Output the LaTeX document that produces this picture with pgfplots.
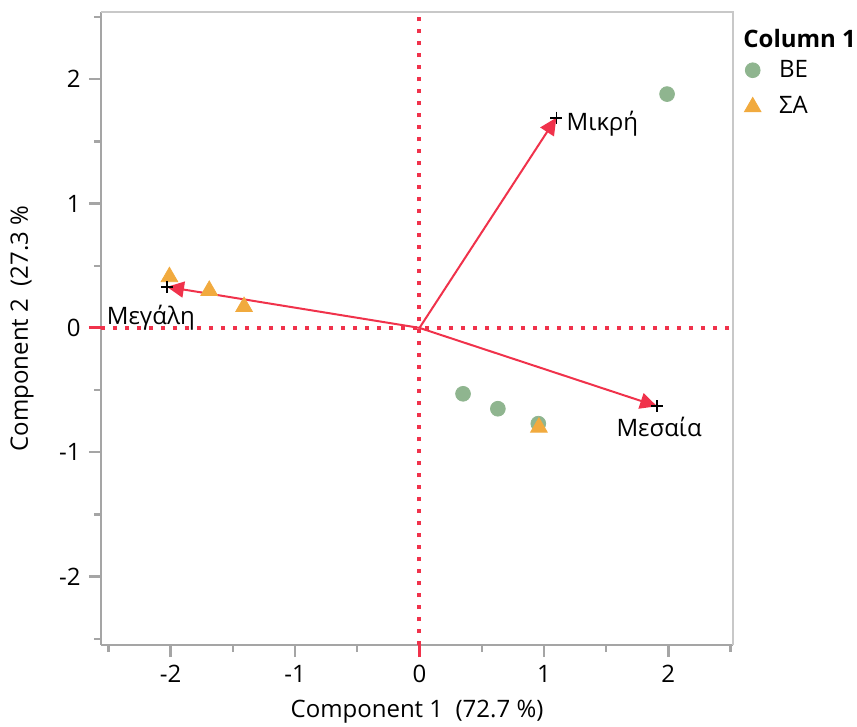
\documentclass[border=0pt]{standalone}
\usepackage{fontspec}
\setmainfont{Open Sans}
\usepackage{pgfplots}
\pgfplotsset{compat=1.18}
\usetikzlibrary{arrows.meta}
\definecolor{beg}{RGB}{143,181,143}
\definecolor{sao}{RGB}{241,170,62}
\definecolor{arr}{RGB}{240,50,75}
\definecolor{axg}{RGB}{165,165,165}
\definecolor{axl}{RGB}{200,200,200}
\begin{document}
\fontsize{12}{14}\selectfont
\begin{tikzpicture}
\begin{axis}[name=ax,
  scale only axis, width=316pt, height=316.5pt,
  xmin=-2.56, xmax=2.52, ymin=-2.55, ymax=2.54,
  axis lines*=left, axis line style={axg, line width=1.4pt},
  xtick={-2,-1,0,1,2}, ytick={-2,-1,0,1,2},
  minor xtick={-2.5,-1.5,-0.5,0.5,1.5,2.5},
  minor ytick={-2.5,-1.5,-0.5,0.5,1.5,2.5},
  tick align=outside, tick pos=left,
  major tick style={axg, line width=1.2pt}, minor tick style={axg, line width=1.2pt},
  major tick length=6pt, minor tick length=3.5pt,
  extra x ticks={0}, extra x tick labels={}, extra x tick style={major tick style={arr, line width=1.4pt}},
  extra y ticks={0}, extra y tick labels={}, extra y tick style={major tick style={arr, line width=1.4pt}},
  /pgf/number format/assume math mode=true,
  ticklabel style={font=\fontsize{12}{14}\selectfont},
  xlabel={Component 1\ \ (72.7 \%)},
  ylabel={Component 2\ \ (27.3 \%},
  label style={font=\fontsize{12}{14}\selectfont},
  xlabel style={at={(axis description cs:0.5,0)}, anchor=center, yshift=-33.5pt},
  ylabel style={at={(axis description cs:0,0.5)}, anchor=center, yshift=39.5pt},
  clip=false,
  legend style={at={(rel axis cs:1.0,0.925)}, anchor=north west, xshift=5.5pt, draw=none, fill=none,
    inner sep=0pt, nodes={inner sep=0pt}, column sep=9pt, row sep=8pt,
    font=\fontsize{12}{14}\selectfont},
  legend cell align=left,
]
\addplot[only marks, mark=*, mark size=3.7pt, color=beg] coordinates {
  (1.99,1.88) (0.35,-0.53) (0.63,-0.65) (0.955,-0.77)};
\addlegendentry{BE}
\addplot[only marks, mark=triangle*, mark size=4.8pt, color=sao] coordinates {
  (-2.01,0.41) (-1.69,0.30) (-1.41,0.17) (0.96,-0.80)};
\addlegendentry{ΣA}
\addplot[forget plot, arr, line width=2pt, dash pattern=on 2pt off 4pt] coordinates {(0,-2.55) (0,2.54)};
\addplot[forget plot, arr, line width=2pt, dash pattern=on 2pt off 4pt] coordinates {(-2.56,0) (2.52,0)};
\addplot[forget plot, arr, line width=1pt, -{Triangle[length=8.5pt,width=8pt]}] coordinates {(0,0) (1.10,1.69)};
\addplot[forget plot, arr, line width=1pt, -{Triangle[length=8.5pt,width=8pt]}] coordinates {(0,0) (-2.03,0.33)};
\addplot[forget plot, arr, line width=1pt, -{Triangle[length=8.5pt,width=8pt]}] coordinates {(0,0) (1.91,-0.63)};
\addplot[forget plot, only marks, mark=+, mark size=3pt, black, line width=0.8pt] coordinates {(1.10,1.69) (-2.03,0.33) (1.91,-0.63)};
\node[anchor=west, inner sep=0pt, xshift=5pt, yshift=-3pt] at (axis cs:1.10,1.69) {Μικρή};
\node[anchor=north, inner sep=0pt, xshift=-8pt, yshift=-9pt] at (axis cs:-2.03,0.33) {Μεγάλη};
\node[anchor=north, inner sep=0pt, xshift=1pt, yshift=-5.5pt] at (axis cs:1.91,-0.63) {Μεσαία};
\draw[axl, line width=1pt] (rel axis cs:0,1) -- (rel axis cs:1,1) -- (rel axis cs:1,0);
\node[anchor=west, inner sep=0pt, xshift=5pt, yshift=-13pt, font=\bfseries\fontsize{12}{14}\selectfont] at (rel axis cs:1.0,1.0) {Column 1};
\end{axis}
\pgfresetboundingbox
\path ([shift={(-50.5pt,-40.5pt)}]ax.south west) rectangle ([shift={(62pt,6pt)}]ax.north east);
\end{tikzpicture}
\end{document}
